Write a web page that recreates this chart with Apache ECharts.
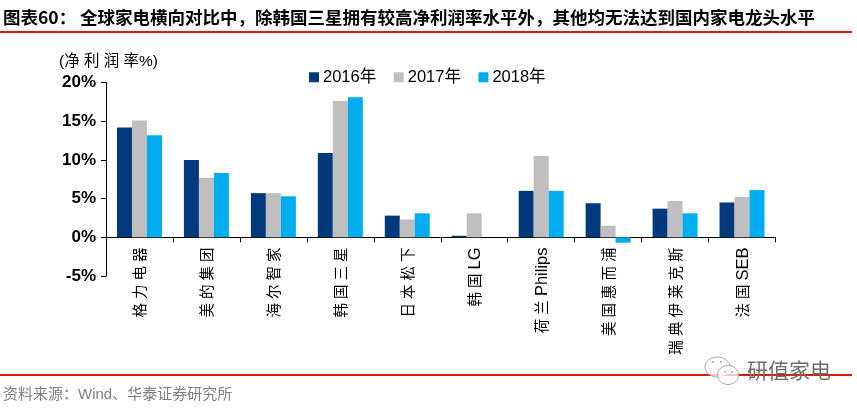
<!DOCTYPE html>
<html><head><meta charset="utf-8">
<style>html,body{margin:0;padding:0;background:#fff}#c{width:857px;height:410px}</style>
<script src="https://cdn.jsdelivr.net/npm/echarts@6/dist/echarts.min.js"></script>
</head><body><div id="c"></div>
<script>
const titleText = '图表60： 全球家电横向对比中，除韩国三星拥有较高净利润率水平外，其他均无法达到国内家电龙头水平';
const unitText = '(净 利 润 率%)';
const sourceText = '资料来源：Wind、华泰证券研究所';
const markText = '研值家电';
const categories = ['格力电器','美的集团','海尔智家','韩国三星','日本松下','韩国LG','荷兰Philips','美国惠而浦','瑞典伊莱克斯','法国SEB'];
const seriesNames = ['2016年','2017年','2018年'];
const v2016 = [14.2,10.0,5.7,10.9,2.8,0.2,6.0,4.4,3.7,4.5];
const v2017 = [15.1,7.7,5.7,17.6,2.3,3.1,10.5,1.5,4.7,5.2];
const v2018 = [13.2,8.3,5.3,18.1,3.1,null,6.0,-0.7,3.1,6.1];
const colors = ['#003a7d','#bfbfbf','#00aeef'];
const FONT = '"Liberation Sans","Noto Sans CJK SC",sans-serif';
const CJK = '"Noto Sans CJK SC",sans-serif';
const vals = [v2016,v2017,v2018];
const chart = echarts.init(document.getElementById('c'),null,{renderer:'canvas'});
chart.setOption({
  animation:false,
  backgroundColor:'#fff',
  title:[
    {text:titleText,left:3,top:9,padding:0,textStyle:{fontFamily:CJK,fontSize:17.5,fontWeight:'bold',color:'#000'}},
    {text:unitText,left:59,top:54,padding:0,textStyle:{fontFamily:FONT,fontSize:15.5,fontWeight:'normal',color:'#000'}},
    {text:sourceText,left:3,top:387,padding:0,textStyle:{fontFamily:FONT,fontSize:15,fontWeight:'normal',color:'#7f7f7f'}}
  ],
  legend:{left:309,top:69,padding:0,itemWidth:10,itemHeight:10,itemGap:17.5,icon:'rect',
    data:seriesNames,textStyle:{fontFamily:FONT,fontSize:16.5,color:'#000',padding:[0,0,0,-1]}},
  grid:{left:106,right:81.5,top:82.5,bottom:134,containLabel:false},
  xAxis:{type:'category',data:categories,
    axisLine:{onZero:true,lineStyle:{color:'#000',width:1}},
    axisTick:{show:true,length:5,alignWithLabel:false,lineStyle:{color:'#000'}},
    axisLabel:{interval:0,rotate:90,margin:-28.5,padding:[3,0,0,0],fontFamily:FONT,fontSize:14.5,color:'#000',
      rich:{l:{fontFamily:FONT,fontSize:16.5,color:'#000'}},
      formatter:s=>s.replace(/([\u4e00-\u9fff])/g,'$1 ').trim().replace(/([A-Za-z]+)/g,'{l|$1}')}},
  yAxis:{type:'value',min:-5,max:20,interval:5,
    axisLine:{show:true,lineStyle:{color:'#000',width:1}},
    axisTick:{show:true,length:5,lineStyle:{color:'#000'}},
    splitLine:{show:false},
    axisLabel:{margin:10,fontFamily:FONT,fontSize:17,fontWeight:'bold',color:'#000',formatter:'{value}%'}},
  series:seriesNames.map((n,i)=>({name:n,type:'bar',data:vals[i],barWidth:15,barGap:0,
    itemStyle:{color:colors[i]}})),
  graphic:[
    {type:'rect',silent:true,shape:{x:0,y:31,width:852,height:2},style:{fill:'#e0190b'}},
    {type:'rect',silent:true,shape:{x:0,y:374,width:852,height:2},style:{fill:'#e0190b'}},
    {type:'ellipse',z:20,shape:{cx:717.5,cy:367,rx:12.5,ry:10},style:{fill:'rgba(255,255,255,0.75)',stroke:'#aaa',lineWidth:1}},
    {type:'ellipse',z:21,shape:{cx:728,cy:375,rx:10.5,ry:9.5},style:{fill:'rgba(255,255,255,0.75)',stroke:'#aaa',lineWidth:1}},
    {type:'circle',z:22,shape:{cx:713,cy:362,r:1},style:{fill:'#aaa'}},
    {type:'circle',z:22,shape:{cx:721,cy:362,r:1},style:{fill:'#aaa'}},
    {type:'circle',z:22,shape:{cx:725,cy:372,r:1},style:{fill:'#aaa'}},
    {type:'circle',z:22,shape:{cx:732,cy:372,r:1},style:{fill:'#aaa'}},
    {type:'text',z:22,style:{x:747,y:360,text:markText,fill:'#6e6e6e',font:'21px "Noto Sans CJK SC",sans-serif'}}
  ]
});
</script></body></html>
